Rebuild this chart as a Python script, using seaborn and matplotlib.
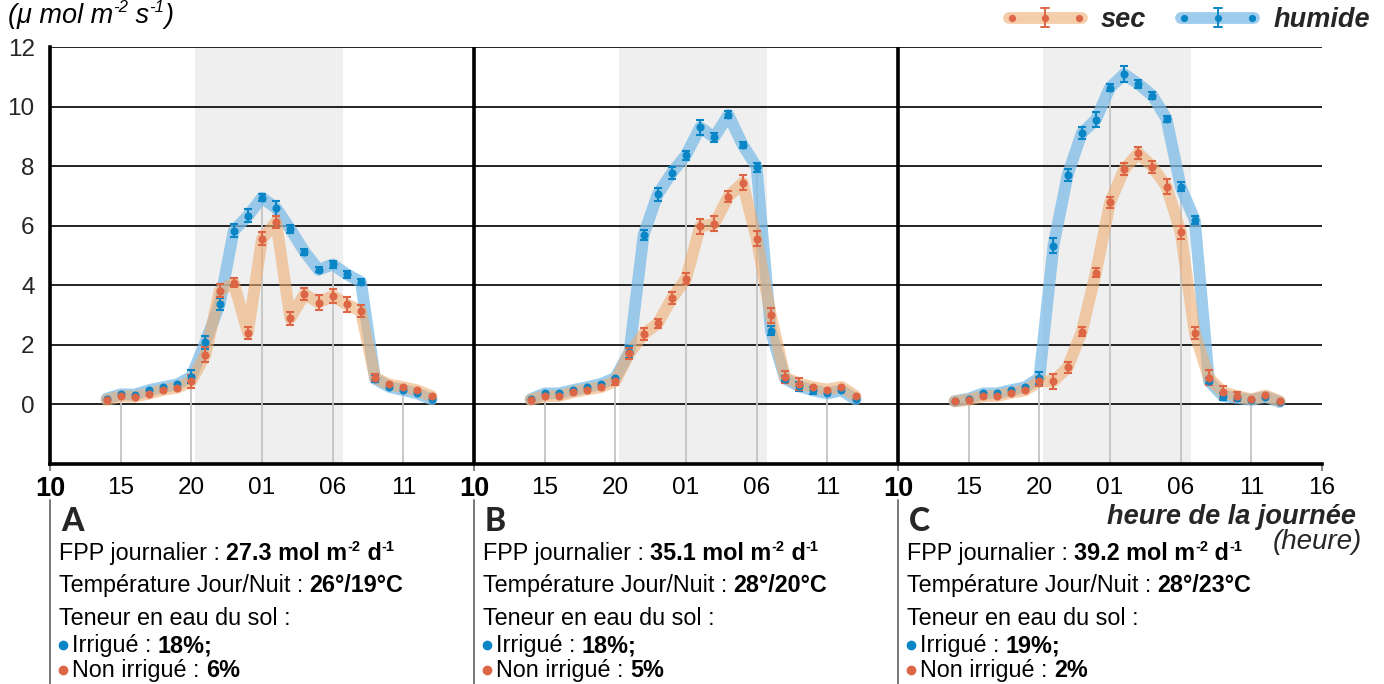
import numpy as np
import pandas as pd
import seaborn as sns
import matplotlib
matplotlib.use("Agg")
import matplotlib.pyplot as plt
from matplotlib import font_manager
from matplotlib.lines import Line2D
from matplotlib.legend_handler import HandlerBase
from matplotlib.transforms import blended_transform_factory

# ---------------- data ----------------
hours = list(range(14, 38))          # 14:00 -> 13:00 next day
panels = ["A", "B", "C"]
night = (20.25, 30.7)                # shaded night span (hours, continuous)

humide_A = [0.19, 0.34, 0.33, 0.48, 0.58, 0.67, 0.93, 2.09, 3.36, 5.83, 6.33, 6.94,
            6.59, 5.89, 5.13, 4.52, 4.70, 4.37, 4.11, 0.86, 0.59, 0.48, 0.37, 0.17]
sec_A = [0.15, 0.27, 0.26, 0.36, 0.49, 0.56, 0.78, 1.67, 3.81, 4.08, 2.41, 5.56,
         6.13, 2.89, 3.70, 3.42, 3.64, 3.36, 3.13, 0.89, 0.67, 0.58, 0.47, 0.28]
humide_B = [0.17, 0.37, 0.37, 0.48, 0.58, 0.69, 0.89, 1.76, 5.69, 7.06, 7.78, 8.37,
            9.30, 8.97, 9.72, 8.72, 7.97, 2.47, 0.87, 0.61, 0.47, 0.37, 0.47, 0.17]
sec_B = [0.15, 0.28, 0.28, 0.41, 0.50, 0.58, 0.78, 1.72, 2.36, 2.72, 3.56, 4.22,
         5.98, 6.06, 6.98, 7.44, 5.56, 3.00, 0.91, 0.70, 0.58, 0.50, 0.59, 0.28]
humide_C = [0.11, 0.19, 0.37, 0.37, 0.48, 0.58, 0.89, 5.33, 7.70, 9.11, 9.56, 10.64,
            11.09, 10.76, 10.37, 9.59, 7.31, 6.19, 0.78, 0.28, 0.22, 0.15, 0.26, 0.08]
sec_C = [0.10, 0.15, 0.28, 0.28, 0.39, 0.47, 0.78, 0.78, 1.24, 2.44, 4.42, 6.78,
         7.89, 8.44, 7.98, 7.31, 5.78, 2.39, 0.89, 0.41, 0.28, 0.17, 0.30, 0.11]

err_humide_A = [0, 0, 0, 0, 0, 0, 0.22, 0.22, 0.2, 0.22, 0.22, 0.12, 0.25, 0.12, 0.1, 0.08,
                0.12, 0.12, 0.1, 0.12, 0, 0, 0, 0]
err_sec_A = [0, 0, 0, 0, 0, 0, 0.22, 0.25, 0.22, 0.15, 0.2, 0.22, 0.2, 0.22, 0.2, 0.25,
             0.22, 0.25, 0.2, 0.12, 0, 0, 0, 0]
err_humide_B = [0, 0, 0, 0, 0, 0, 0, 0.2, 0.18, 0.22, 0.2, 0.15, 0.25, 0.15, 0.12, 0.1,
                0.15, 0.15, 0.1, 0.15, 0.12, 0, 0, 0]
err_sec_B = [0, 0, 0, 0, 0, 0, 0.12, 0.18, 0.2, 0.15, 0.2, 0.18, 0.25, 0.25, 0.2, 0.25,
             0.25, 0.25, 0.2, 0.2, 0, 0, 0, 0]
err_humide_C = [0, 0, 0, 0, 0, 0, 0.2, 0.25, 0.2, 0.2, 0.25, 0.12, 0.28, 0.12, 0.12, 0.1,
                0.15, 0.12, 0.1, 0.12, 0, 0, 0, 0]
err_sec_C = [0, 0, 0, 0, 0, 0, 0.15, 0.25, 0.2, 0.15, 0.15, 0.2, 0.2, 0.2, 0.2, 0.25,
             0.22, 0.2, 0.25, 0.2, 0.15, 0, 0, 0]

fpp = ["27.3", "35.1", "39.2"]
temps = ["26°/19°C", "28°/20°C", "28°/23°C"]
irrigue = ["18%;", "18%;", "19%;"]
non_irrigue = ["6%", "5%", "2%"]

xticks = list(range(0, 91, 5))
xtick_labels = ["10", "15", "20", "01", "06", "11"] * 3 + ["16"]
yticks = [0, 2, 4, 6, 8, 10, 12]

series = {"humide": [humide_A, humide_B, humide_C], "sec": [sec_A, sec_B, sec_C]}
errors = {"humide": [err_humide_A, err_humide_B, err_humide_C], "sec": [err_sec_A, err_sec_B, err_sec_C]}

rows = []
for s in ["humide", "sec"]:
    for i, p in enumerate(panels):
        for h, v, e in zip(hours, series[s][i], errors[s][i]):
            rows.append({"series": s, "panel": p, "x": h - 10 + 30 * i, "val": v, "err": e})
df = pd.DataFrame(rows)

# ---------------- style ----------------
sns.set_theme(style="white")
available = {f.name for f in font_manager.fontManager.ttflist}
main_font = "Liberation Sans Narrow" if "Liberation Sans Narrow" in available else "Liberation Sans"
FONT = [main_font, "DejaVu Sans"]
plt.rcParams["font.family"] = FONT

W, H = 1384, 684
fig = plt.figure(figsize=(W / 100, H / 100), dpi=100)
ax = fig.add_axes([50 / W, 1 - 464 / H, (1322 - 50) / W, (464 - 47) / H])

band_col = {"humide": "#7cbce6", "sec": "#eeae74"}
dot_col = {"humide": "#0a86c6", "sec": "#dd6646"}
band_alpha = {"humide": 0.75, "sec": 0.6}

# night shading
for i in range(3):
    ax.axvspan(night[0] - 10 + 30 * i, night[1] - 10 + 30 * i, color="#efefef", lw=0, zorder=0)

# horizontal grid
ax.hlines(yticks, 0, 90, color="#222222", lw=1.4, zorder=1)

# drop lines at tick hours
for i in range(3):
    sub = df[df.panel == panels[i]]
    for h in [15, 20, 25, 30, 35]:
        xv = h - 10 + 30 * i
        top = sub[sub.x == xv].val.max()
        ax.vlines(xv, -2, top, color="#c4c4c4", lw=1.3, zorder=1)

# bands
for s in ["humide", "sec"]:
    sns.lineplot(data=df[df.series == s], x="x", y="val", units="panel", estimator=None,
                 color=band_col[s], lw=8.5, alpha=band_alpha[s], ax=ax, zorder=2,
                 solid_capstyle="round", solid_joinstyle="round", legend=False)

# points and error bars
for s in ["humide", "sec"]:
    d = df[df.series == s]
    de = d[d.err > 0]
    ax.errorbar(de.x, de.val, yerr=de.err, fmt="none", ecolor=dot_col[s], elinewidth=1.5,
                capsize=3.2, capthick=1.5, zorder=3)
    ax.plot(d.x, d.val, ls="none", marker="o", ms=4.8, color=dot_col[s], zorder=4)

# separators
ax.vlines([30, 60], -2, 12, color="black", lw=2.6, zorder=5)

ax.set_xlim(0, 90)
ax.set_ylim(-2, 12)
ax.set_xlabel("")
ax.set_ylabel("")
ax.set_xticks(xticks)
ax.set_xticklabels(xtick_labels)
ax.set_yticks(yticks)
ax.set_yticklabels([str(v) for v in yticks])
ax.tick_params(axis="x", labelsize=17.5, length=0, pad=9, colors="black")
ax.tick_params(axis="y", labelsize=17.5, length=9, width=1.4, color="#222222", pad=2)
for lab, xv in zip(ax.get_xticklabels(), xticks):
    if xv in (0, 30, 60):
        lab.set_fontweight("bold")
        lab.set_fontsize(19.5)
for sp in ["top", "right"]:
    ax.spines[sp].set_visible(False)
ax.spines["left"].set_linewidth(2.6)
ax.spines["left"].set_color("black")
ax.spines["bottom"].set_linewidth(2.6)
ax.spines["bottom"].set_color("black")
ax.grid(False)

# small gray ticks at panel boundaries
ax.vlines([0, 30, 60, 90], -2.0, -2.25, color="#888888", lw=1.5, clip_on=False)

# separators below the axis for the text blocks
bt = blended_transform_factory(ax.transData, fig.transFigure)
for xv in [0, 30, 60]:
    ax.plot([xv, xv], [1 - 500 / H, 0.0], color="#777777", lw=1.4, transform=bt, clip_on=False)

# ---------------- text helpers ----------------
renderer = fig.canvas.get_renderer()


def rich(x_px, y_px, parts, fs, color="black"):
    x = x_px
    for s, w, st, sup in parts:
        size = fs * 0.62 if sup else fs
        dy = fs * 0.55 if sup else 0
        t = fig.text(x / W, 1 - (y_px - dy) / H, s, fontsize=size, fontweight=w,
                     fontstyle=st, va="baseline", ha="left", color=color)
        x += t.get_window_extent(renderer).width
    return x


# y label
rich(8, 23, [("(μ mol m", "normal", "italic", False), ("-2", "normal", "italic", True),
             (" s", "normal", "italic", False), ("-1", "normal", "italic", True),
             (")", "normal", "italic", False)], 19.5)

# x label
fig.text(1356 / W, 1 - 524 / H, "heure de la journée", fontsize=19.5, fontweight="bold",
         fontstyle="italic", ha="right", va="baseline")
fig.text(1362 / W, 1 - 549 / H, "(heure)", fontsize=20, fontstyle="italic", ha="right", va="baseline")

# panel texts
fs = 16.8
for i, p in enumerate(panels):
    dx = 424 * i
    fig.text((61 + dx) / W, 1 - 531 / H, p, fontsize=23, fontweight="black",
             family=["Lato", "DejaVu Sans"], va="baseline", ha="left")
    rich(59 + dx, 560, [("FPP journalier : ", "normal", "normal", False),
                        (fpp[i] + " mol m", "bold", "normal", False),
                        ("-2", "bold", "normal", True),
                        (" d", "bold", "normal", False),
                        ("-1", "bold", "normal", True)], fs)
    rich(59 + dx, 592, [("Température Jour/Nuit : ", "normal", "normal", False),
                        (temps[i], "bold", "normal", False)], fs)
    rich(59 + dx, 625, [("Teneur en eau du sol :", "normal", "normal", False)], fs)
    rich(72 + dx, 652, [("Irrigué : ", "normal", "normal", False),
                        (irrigue[i], "bold", "normal", False)], fs)
    rich(72 + dx, 677, [("Non irrigué : ", "normal", "normal", False),
                        (non_irrigue[i], "bold", "normal", False)], fs)
    fig.add_artist(Line2D([(63 + dx) / W], [1 - 645 / H], marker="o", ms=6,
                          color=dot_col["humide"], ls="none"))
    fig.add_artist(Line2D([(63 + dx) / W], [1 - 670 / H], marker="o", ms=6,
                          color=dot_col["sec"], ls="none"))


# ---------------- legend ----------------
class BandHandler(HandlerBase):
    def create_artists(self, legend, orig, xd, yd, w, h, fontsize, trans):
        s = orig.get_label()
        y = h / 2 - yd
        x0, x1 = -xd + 4, -xd + w - 4
        xm = (x0 + x1) / 2
        arts = [
            Line2D([x0, x1], [y, y], color=band_col[s], alpha=band_alpha[s], lw=8.5,
                   solid_capstyle="round"),
            Line2D([x0 + 2, xm, x1 - 2], [y] * 3, ls="none", marker="o", ms=4.2, color=dot_col[s]),
            Line2D([xm, xm], [y - 7, y + 7], color=dot_col[s], lw=1.4),
            Line2D([xm - 3, xm + 3], [y + 7, y + 7], color=dot_col[s], lw=1.4),
            Line2D([xm - 3, xm + 3], [y - 7, y - 7], color=dot_col[s], lw=1.4),
        ]
        for a in arts:
            a.set_transform(trans)
        return arts


h_sec = Line2D([], [], label="sec")
h_hum = Line2D([], [], label="humide")
leg = fig.legend(handles=[h_sec, h_hum], labels=["sec", "humide"], ncol=2,
                 loc="center right", bbox_to_anchor=(1370 / W, 1 - 20 / H),
                 bbox_transform=fig.transFigure, frameon=False, borderaxespad=0, borderpad=0,
                 handlelength=3.1, handletextpad=0.5, columnspacing=1.1,
                 prop={"weight": "bold", "style": "italic", "size": 19.5},
                 handler_map={Line2D: BandHandler()})

fig.savefig("out.png", dpi=100)
